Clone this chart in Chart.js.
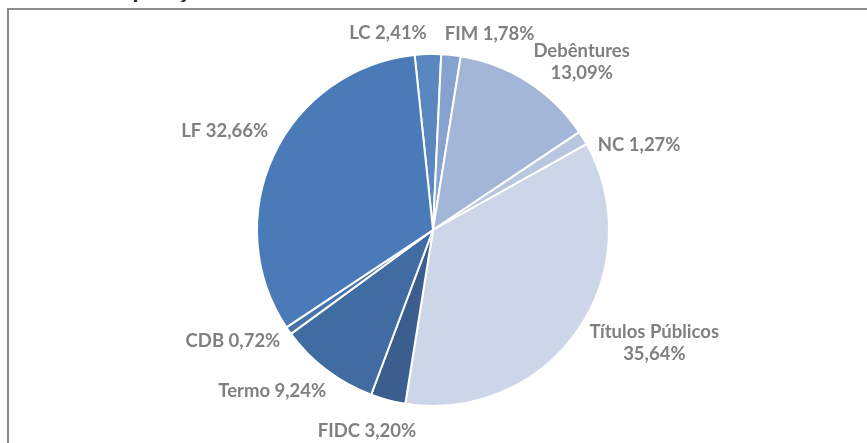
<!DOCTYPE html>
<html>
<head>
<meta charset="utf-8">
<script src="https://cdn.jsdelivr.net/npm/chart.js@4/dist/chart.umd.min.js"></script>
<style>
  html, body { margin: 0; padding: 0; background: #fff; }
  body { width: 867px; height: 443px; position: relative; overflow: hidden; }
  #frame { position: absolute; left: 7px; top: 8px; width: 900px; height: 500px;
           border-left: 2px solid #8c8c8c; border-top: 2px solid #8c8c8c; }
  #title { position: absolute; left: 83px; top: -26px; line-height: 30px;
           font: bold 24px Lato, sans-serif; color: #262626; white-space: nowrap; }
  #chartBox { position: absolute; left: 0; top: 0; width: 867px; height: 443px; }
</style>
</head>
<body>
<div id="title">Composição da carteira</div>
<div id="frame"></div>
<div id="chartBox"><canvas id="pieChart" width="867" height="443"></canvas></div>
<script>
// carteira por tipo de ativo (%)
const categories = ["LC", "FIM", "Debêntures", "NC", "Títulos Públicos", "FIDC", "Termo", "CDB", "LF"];
const shares = [2.41, 1.78, 13.09, 1.27, 35.64, 3.20, 9.24, 0.72, 32.66];
const sliceColors = ["#5b87c0", "#87a2cf", "#a4b6d8", "#b9c6e0", "#cdd6e8", "#3b5e8e", "#416ca1", "#4774ad", "#4a7bb8"];

function pct(v) {
  return v.toFixed(2).replace(".", ",") + "%";
}

// long names get the percentage on a second line
function labelLines(i) {
  const name = categories[i];
  return name.length > 6 ? [name, pct(shares[i])] : [name + " " + pct(shares[i])];
}

const clamp = v => Math.max(-1, Math.min(1, v));

// labels outside each slice, pushed sideways when they collide
const outsideLabels = {
  id: "outsideLabels",
  afterDatasetsDraw(chart, args, opts) {
    const ctx = chart.ctx;
    const meta = chart.getDatasetMeta(0);
    ctx.save();
    ctx.font = opts.font;
    const boxes = meta.data.map((arc, i) => {
      const p = arc.getProps(["x", "y", "startAngle", "endAngle", "outerRadius"], true);
      const mid = (p.startAngle + p.endAngle) / 2;
      const cos = Math.cos(mid), sin = Math.sin(mid);
      const lines = labelLines(i);
      const w = Math.max(...lines.map(l => ctx.measureText(l).width));
      const h = opts.capHeight + (lines.length - 1) * opts.lineHeight;
      const r = p.outerRadius + opts.padding;
      const shift = opts.nudge[categories[i]] || [0, 0];
      return {
        lines, w, h,
        cx: p.x + cos * r + clamp(1.6 * cos) * w / 2 + shift[0],
        cy: p.y + sin * r + Math.pow(sin, 3) * h / 2 + shift[1]
      };
    });
    for (let pass = 0; pass < 6; pass++) {
      for (let i = 0; i < boxes.length; i++) {
        for (let j = i + 1; j < boxes.length; j++) {
          const a = boxes[i], b = boxes[j];
          const ox = (a.w + b.w) / 2 + opts.gap - Math.abs(a.cx - b.cx);
          const oy = (a.h + b.h) / 2 - Math.abs(a.cy - b.cy);
          if (ox > 0 && oy > 0) {
            const s = a.cx < b.cx ? -1 : 1;
            a.cx += s * ox / 2;
            b.cx -= s * ox / 2;
          }
        }
      }
    }
    ctx.fillStyle = opts.color;
    ctx.textAlign = "center";
    ctx.textBaseline = "alphabetic";
    boxes.forEach(b => {
      const top = b.cy - b.h / 2;
      b.lines.forEach((l, k) => {
        ctx.fillText(l, b.cx, top + opts.capHeight + k * opts.lineHeight);
      });
    });
    ctx.restore();
  }
};

new Chart(document.getElementById("pieChart"), {
  type: "pie",
  data: {
    labels: categories,
    datasets: [{
      data: shares,
      backgroundColor: sliceColors,
      borderColor: "#ffffff",
      borderWidth: 2
    }]
  },
  options: {
    responsive: false,
    animation: false,
    events: [],
    rotation: -6,
    layout: { padding: { top: 53, bottom: 36, left: 0, right: 1 } },
    plugins: {
      legend: { display: false },
      tooltip: { enabled: false },
      outsideLabels: {
        font: "bold 18.5px Lato, sans-serif",
        color: "#808080",
        capHeight: 13,
        lineHeight: 22,
        padding: 15,
        gap: 18,
        // hand-placed tweaks on top of the radial placement
        nudge: {
          "LC": [-4, 0],
          "FIM": [-4, 0],
          "LF": [8, -18],
          "NC": [2, 15],
          "FIDC": [3, 10],
          "Termo": [7, 5],
          "CDB": [4, 0],
          "Debêntures": [4, 3]
        }
      }
    }
  },
  plugins: [outsideLabels]
});
</script>
</body>
</html>
